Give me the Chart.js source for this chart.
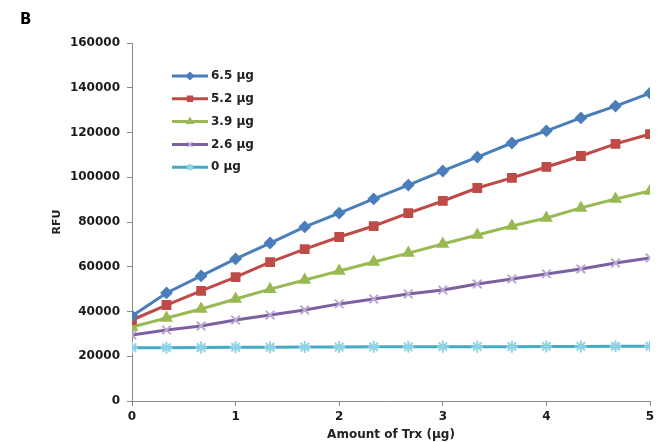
<!DOCTYPE html>
<html>
<head>
<meta charset="utf-8">
<script src="https://cdn.jsdelivr.net/npm/chart.js@4/dist/chart.umd.min.js"></script>
<style>
  html, body { margin: 0; padding: 0; background: #fff; }
  #wrap { position: relative; width: 667px; height: 442px; }
</style>
</head>
<body>
<div id="wrap"><canvas id="myChart" width="667" height="442"></canvas></div>
<script>
// amount of Trx (µg) along the x axis
const trxAmounts = [0, 0.333, 0.667, 1, 1.333, 1.667, 2, 2.333, 2.667, 3, 3.333, 3.667, 4, 4.333, 4.667, 5];

const seriesLabels = ['6.5 µg', '5.2 µg', '3.9 µg', '2.6 µg', '0 µg'];

const rfu65 = [38000, 48300, 55900, 63500, 70600, 77800, 84000, 90300, 96500, 102800, 109000, 115300, 120700, 126500, 131800, 137600];
const rfu52 = [36200, 42900, 49200, 55400, 62100, 67900, 73300, 78200, 84000, 89400, 95200, 99700, 104600, 109500, 114900, 119300];
const rfu39 = [33100, 37100, 41100, 45600, 50000, 54100, 58100, 62100, 66100, 70200, 74200, 78200, 81800, 86300, 90300, 93900];
const rfu26 = [29500, 31700, 33500, 36200, 38400, 40700, 43400, 45600, 47800, 49600, 52300, 54500, 56800, 59000, 61700, 63900];
const rfu0  = [23800, 23800, 23900, 24000, 24000, 24100, 24100, 24200, 24200, 24300, 24300, 24300, 24400, 24400, 24500, 24500];

const yTicks = [0, 20000, 40000, 60000, 80000, 100000, 120000, 140000, 160000];
const xTicks = [0, 1, 2, 3, 4, 5];

const font = 'DejaVu Sans';

function pts(values) {
    return values.map((v, i) => ({ x: trxAmounts[i], y: v }));
}

function series(label, values, color, pointColor, style, radius) {
    return {
        label: label,
        data: pts(values),
        borderColor: color,
        backgroundColor: pointColor,
        pointBorderColor: pointColor,
        pointBackgroundColor: pointColor,
        pointStyle: style,
        pointRadius: radius,
        pointBorderWidth: 2,
        borderWidth: 3,
        tension: 0
    };
}

const datasets = [
    series(seriesLabels[0], rfu65, '#4A7EBB', '#4A7EBB', 'rectRot', 5),
    series(seriesLabels[1], rfu52, '#BE4B48', '#BE4B48', 'rect', 5.5),
    series(seriesLabels[2], rfu39, '#98B954', '#98B954', 'triangle', 5.5),
    series(seriesLabels[3], rfu26, '#7D60A0', '#B9A8D0', 'crossRot', 6),
    series(seriesLabels[4], rfu0, '#46AAC5', '#8ED3E6', 'star', 6)
];

// legend drawn inside the plot area, line + marker like the original
const innerLegend = {
    id: 'innerLegend',
    afterDraw(chart) {
        const ctx = chart.ctx;
        ctx.save();
        ctx.font = 'bold 12px ' + font;
        ctx.textBaseline = 'middle';
        chart.data.datasets.forEach((ds, i) => {
            const y = 76 + i * 22.8;
            ctx.strokeStyle = ds.borderColor;
            ctx.lineWidth = 3;
            ctx.beginPath();
            ctx.moveTo(172, y);
            ctx.lineTo(208, y);
            ctx.stroke();
            ctx.fillStyle = ds.pointBackgroundColor;
            ctx.strokeStyle = ds.pointBorderColor;
            ctx.lineWidth = 1.5;
            Chart.helpers.drawPoint(ctx, { pointStyle: ds.pointStyle, radius: 3.5, rotation: 0, borderWidth: 1.5 }, 190, y);
            ctx.fillStyle = '#222';
            ctx.fillText(ds.label, 211, y);
        });
        ctx.font = 'bold 15px ' + font;
        ctx.fillStyle = '#000';
        ctx.fillText('B', 20, 20);
        ctx.restore();
    }
};

new Chart(document.getElementById('myChart').getContext('2d'), {
    type: 'line',
    data: { datasets: datasets },
    options: {
        responsive: false,
        animation: false,
        layout: { padding: { left: 0, right: 17, top: 43, bottom: 0 } },
        plugins: { legend: { display: false }, tooltip: { enabled: false } },
        scales: {
            x: {
                type: 'linear',
                min: 0,
                max: 5,
                afterBuildTicks: s => { s.ticks = xTicks.map(v => ({ value: v })); },
                afterFit: s => { s.height = 41; },
                grid: { drawOnChartArea: false, color: '#888', tickLength: 5 },
                border: { color: '#888' },
                ticks: { color: '#1a1a1a', padding: 4, font: { family: font, size: 12, weight: 'bold' } },
                title: { display: true, text: 'Amount of Trx (µg)', color: '#222', padding: { top: 0, bottom: 0 }, font: { family: font, size: 12, weight: 'bold' } }
            },
            y: {
                min: 0,
                max: 160000,
                afterBuildTicks: s => { s.ticks = yTicks.map(v => ({ value: v })); },
                afterFit: s => { s.width = 132; },
                grid: { drawOnChartArea: false, color: '#888', tickLength: 5 },
                border: { color: '#888' },
                ticks: { color: '#1a1a1a', padding: 7, callback: v => String(v), font: { family: font, size: 12, weight: 'bold' } },
                title: { display: true, text: 'RFU', color: '#222', padding: { top: 51, bottom: 0 }, font: { family: font, size: 11, weight: 'bold' } }
            }
        }
    },
    plugins: [innerLegend]
});
</script>
</body>
</html>
